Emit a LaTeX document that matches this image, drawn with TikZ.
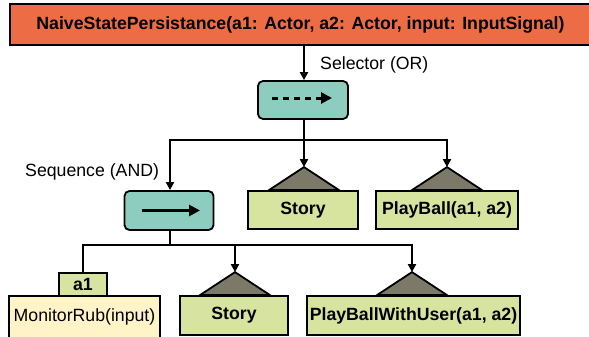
\documentclass[tikz,border=0pt]{standalone}
\usepackage{fontspec}
\setmainfont{Liberation Sans}
\usetikzlibrary{arrows.meta,calc}
\definecolor{titlefill}{RGB}{236,109,69}
\definecolor{tealfill}{RGB}{141,205,192}
\definecolor{greenfill}{RGB}{215,228,160}
\definecolor{trifill}{RGB}{125,121,105}
\definecolor{yellowfill}{RGB}{255,243,200}
\tikzset{
  base/.style={draw=black, line width=1.8pt, inner sep=0pt, font=\fontsize{17.7}{20}\selectfont},
  titlebox/.style={base, fill=titlefill, font=\fontsize{17.7}{20}\selectfont\bfseries},
  ctrlbox/.style={base, fill=tealfill, rounded corners=5pt},
  leafbox/.style={base, fill=greenfill, font=\fontsize{17.7}{20}\selectfont\bfseries},
  condbox/.style={base, fill=yellowfill, draw=black, line width=1.4pt},
  link/.style={line width=2.3pt, -{Triangle[length=8pt,width=8pt]}},
  plainlink/.style={line width=2.3pt},
  lbl/.style={font=\fontsize{17.7}{20}\selectfont, inner sep=0pt, anchor=west},
  tri/.style={fill=trifill, draw=black, line width=1.8pt, line join=miter},
}
\begin{document}
\begin{tikzpicture}[x=1pt,y=-1pt]
\useasboundingbox (0,0) rectangle (589,337);
% title
\node[titlebox, minimum width=581pt, minimum height=41pt] (title) at (300.5,24.5) {NaiveStatePersistance(a1: Actor, a2: Actor, input: InputSignal)};
% selector
\node[ctrlbox, minimum width=90pt, minimum height=38pt] (sel) at (303,100) {};
\draw[line width=3pt, dash pattern=on 6pt off 5pt] ($(sel.center)+(-31,-2)$) coordinate (sa) -- ($(sel.center)+(18,-2)$) coordinate (sb);
\draw[line width=3pt, -{Triangle[length=11pt,width=11pt]}] (sb) -- ($(sel.center)+(29,-2)$) coordinate (sc);
\node[lbl] (sellbl) at (320,65) {Selector (OR)};
% sequence
\node[ctrlbox, minimum width=89pt, minimum height=39pt] (seq) at (169,210.5) {};
\draw[line width=3pt, -{Triangle[length=11pt,width=11pt]}] ($(seq.center)+(-27,0)$) coordinate (qa) -- ($(seq.center)+(31,0)$) coordinate (qb);
\node[lbl] (seqlbl) at (25,172) {Sequence (AND)};
% leaves upper
\node[leafbox, minimum width=110pt, minimum height=38pt] (story1) at (303,210) {Story};
\node[leafbox, minimum width=142pt, minimum height=38pt] (play) at (447,210) {PlayBall(a1, a2)};
% lower row
\node[condbox, minimum width=151pt, minimum height=42pt] (mon) at (84.5,317) {MonitorRub(input)};
\node[leafbox, minimum width=48pt, minimum height=23pt] (a1) at (83,284.5) {a1};
\node[leafbox, minimum width=108pt, minimum height=39pt] (story2) at (234,315.5) {Story};
\node[leafbox, minimum width=213pt, minimum height=39pt] (pbwu) at (413.5,315.5) {PlayBallWithUser(a1, a2)};
% triangles
\coordinate (t1) at ($(story1.north)+(1,-23)$);
\coordinate (t2) at ($(play.north)+(0,-23)$);
\coordinate (t3) at ($(story2.north)+(1,-23)$);
\coordinate (t4) at ($(pbwu.north)+(-1.5,-23)$);
\foreach \t/\b in {t1/story1, t2/play, t3/story2, t4/pbwu} {
  \draw[tri] (\t |- \b.north) ++(-35,0) -- (\t) -- ++(35,23) -- cycle;
}
% connectors
\coordinate (j1) at (304,140);
\coordinate (j2) at (170,245);
\draw[link] (title.south -| j1) -- (sel.north -| j1);
\draw[plainlink] (sel.south -| j1) -- (j1);
\draw[link] (j1) -| (seq.north -| j2);
\draw[link] (j1) -- (t1 |- j1) -- (t1);
\draw[link] (j1) -| (t2);
\draw[plainlink] (seq.south -| j2) -- (j2);
\draw[plainlink] (j2) -| (a1.north);
\draw[link] (j2) -| (t3);
\draw[link] (j2) -| (t4);
\end{tikzpicture}
\end{document}
